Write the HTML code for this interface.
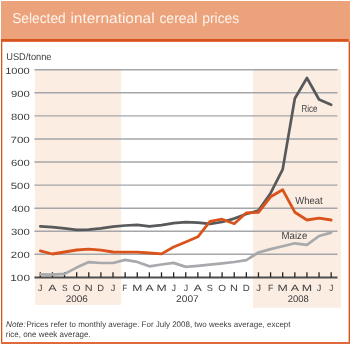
<!DOCTYPE html>
<html><head><meta charset="utf-8">
<style>
html,body{margin:0;padding:0;background:#fff;}
body{width:350px;height:344px;overflow:hidden;position:relative;font-family:"Liberation Sans",sans-serif;}
svg{position:absolute;left:0;top:0;will-change:transform;}
text{font-family:"Liberation Sans",sans-serif;text-rendering:geometricPrecision;}
.g{stroke:#a4a6a9;stroke-width:1.4;}
.tk{stroke:#222;stroke-width:1.3;}
</style></head><body>
<svg width="350" height="344" viewBox="0 0 350 344">
<rect x="1" y="1" width="349" height="40.3" fill="#eca37b"/>
<rect x="1" y="39" width="347.7" height="2.8" fill="#d9531c"/>
<rect x="1" y="41" width="1.3" height="303" fill="#d9531c"/>
<rect x="348.6" y="41.3" width="1.4" height="303" fill="#d9531c"/>
<rect x="1" y="342" width="349" height="2" fill="#e0693c"/>
<rect x="35.0" y="68.7" width="86.1" height="236.2" fill="#fcede3"/>
<rect x="253.0" y="68.7" width="87.9" height="239.1" fill="#fcede3"/>
<line x1="34.4" x2="337.5" y1="254.32" y2="254.32" class="g"/>
<line x1="34.4" x2="337.5" y1="231.25" y2="231.25" class="g"/>
<line x1="34.4" x2="337.5" y1="208.18" y2="208.18" class="g"/>
<line x1="34.4" x2="337.5" y1="185.11" y2="185.11" class="g"/>
<line x1="34.4" x2="337.5" y1="162.03" y2="162.03" class="g"/>
<line x1="34.4" x2="337.5" y1="138.96" y2="138.96" class="g"/>
<line x1="34.4" x2="337.5" y1="115.89" y2="115.89" class="g"/>
<line x1="34.4" x2="337.5" y1="92.81" y2="92.81" class="g"/>
<line x1="34.4" x2="337.5" y1="69.74" y2="69.74" class="g"/>

<line x1="34.4" x2="337.5" y1="277.4" y2="277.4" stroke="#4d4d4d" stroke-width="2"/>
<line x1="40.30" x2="40.30" y1="272.3" y2="277.3" class="tk"/>
<line x1="52.42" x2="52.42" y1="272.3" y2="277.3" class="tk"/>
<line x1="64.54" x2="64.54" y1="272.3" y2="277.3" class="tk"/>
<line x1="76.66" x2="76.66" y1="272.3" y2="277.3" class="tk"/>
<line x1="88.78" x2="88.78" y1="272.3" y2="277.3" class="tk"/>
<line x1="100.90" x2="100.90" y1="272.3" y2="277.3" class="tk"/>
<line x1="113.02" x2="113.02" y1="272.3" y2="277.3" class="tk"/>
<line x1="125.14" x2="125.14" y1="272.3" y2="277.3" class="tk"/>
<line x1="137.26" x2="137.26" y1="272.3" y2="277.3" class="tk"/>
<line x1="149.38" x2="149.38" y1="272.3" y2="277.3" class="tk"/>
<line x1="161.50" x2="161.50" y1="272.3" y2="277.3" class="tk"/>
<line x1="173.62" x2="173.62" y1="272.3" y2="277.3" class="tk"/>
<line x1="185.74" x2="185.74" y1="272.3" y2="277.3" class="tk"/>
<line x1="197.86" x2="197.86" y1="272.3" y2="277.3" class="tk"/>
<line x1="209.98" x2="209.98" y1="272.3" y2="277.3" class="tk"/>
<line x1="222.10" x2="222.10" y1="272.3" y2="277.3" class="tk"/>
<line x1="234.22" x2="234.22" y1="272.3" y2="277.3" class="tk"/>
<line x1="246.34" x2="246.34" y1="272.3" y2="277.3" class="tk"/>
<line x1="258.46" x2="258.46" y1="272.3" y2="277.3" class="tk"/>
<line x1="270.58" x2="270.58" y1="272.3" y2="277.3" class="tk"/>
<line x1="282.70" x2="282.70" y1="272.3" y2="277.3" class="tk"/>
<line x1="294.82" x2="294.82" y1="272.3" y2="277.3" class="tk"/>
<line x1="306.94" x2="306.94" y1="272.3" y2="277.3" class="tk"/>
<line x1="319.06" x2="319.06" y1="272.3" y2="277.3" class="tk"/>
<line x1="331.18" x2="331.18" y1="272.3" y2="277.3" class="tk"/>

<polyline points="40.30,274.30 52.42,274.60 64.54,273.90 76.66,267.60 88.78,262.10 100.90,263.00 113.02,263.00 125.14,259.90 137.26,261.90 149.38,266.30 161.50,264.50 173.62,262.90 185.74,266.90 197.86,265.80 209.98,264.60 222.10,263.40 234.22,262.00 246.34,260.20 258.46,252.50 270.58,249.10 282.70,246.20 294.82,243.30 306.94,244.80 319.06,236.00 331.18,232.60" fill="none" stroke="#a7a9ac" stroke-width="2.7" stroke-linejoin="round" stroke-linecap="round"/>
<polyline points="40.30,226.30 52.42,227.10 64.54,228.40 76.66,229.80 88.78,229.70 100.90,228.40 113.02,226.70 125.14,225.50 137.26,224.90 149.38,226.30 161.50,225.20 173.62,223.10 185.74,222.10 197.86,222.70 209.98,223.80 222.10,222.00 234.22,218.60 246.34,214.00 258.46,210.60 270.58,193.20 282.70,169.30 294.82,98.50 306.94,78.00 319.06,99.50 331.18,104.80" fill="none" stroke="#58595b" stroke-width="2.7" stroke-linejoin="round" stroke-linecap="round"/>
<polyline points="40.30,250.90 52.42,254.00 64.54,252.00 76.66,250.00 88.78,249.20 100.90,250.20 113.02,252.00 125.14,252.10 137.26,252.10 149.38,253.00 161.50,253.90 173.62,247.00 185.74,242.00 197.86,236.80 209.98,221.40 222.10,219.20 234.22,223.70 246.34,212.80 258.46,212.30 270.58,196.80 282.70,189.80 294.82,212.20 306.94,220.00 319.06,218.10 331.18,220.00" fill="none" stroke="#d9531c" stroke-width="2.8" stroke-linejoin="round" stroke-linecap="round"/>
<text x="12.14" y="22.80" font-size="14.35" fill="#fdf3ec" textLength="53.64" lengthAdjust="spacingAndGlyphs">Selected</text>
<text x="70.42" y="22.80" font-size="14.35" fill="#fdf3ec" textLength="84.16" lengthAdjust="spacingAndGlyphs">international</text>
<text x="159.39" y="22.80" font-size="14.35" fill="#fdf3ec" textLength="38.10" lengthAdjust="spacingAndGlyphs">cereal</text>
<text x="202.30" y="22.80" font-size="14.35" fill="#fdf3ec" textLength="36.87" lengthAdjust="spacingAndGlyphs">prices</text>
<text x="6.20" y="60.20" font-size="9.80" fill="#3d3d3d" textLength="45.31" lengthAdjust="spacingAndGlyphs">USD/tonne</text>
<text x="10.33" y="281.40" font-size="9.10" fill="#3d3d3d" textLength="19.63" lengthAdjust="spacingAndGlyphs">100</text>
<text x="10.82" y="258.32" font-size="9.10" fill="#3d3d3d" textLength="18.97" lengthAdjust="spacingAndGlyphs">200</text>
<text x="10.90" y="235.25" font-size="9.10" fill="#3d3d3d" textLength="18.92" lengthAdjust="spacingAndGlyphs">300</text>
<text x="11.42" y="212.18" font-size="9.10" fill="#3d3d3d" textLength="18.42" lengthAdjust="spacingAndGlyphs">400</text>
<text x="10.77" y="189.11" font-size="9.10" fill="#3d3d3d" textLength="18.97" lengthAdjust="spacingAndGlyphs">500</text>
<text x="10.92" y="166.03" font-size="9.10" fill="#3d3d3d" textLength="18.86" lengthAdjust="spacingAndGlyphs">600</text>
<text x="10.44" y="142.96" font-size="9.10" fill="#3d3d3d" textLength="19.38" lengthAdjust="spacingAndGlyphs">700</text>
<text x="10.99" y="119.89" font-size="9.10" fill="#3d3d3d" textLength="18.83" lengthAdjust="spacingAndGlyphs">800</text>
<text x="10.97" y="96.81" font-size="9.10" fill="#3d3d3d" textLength="18.85" lengthAdjust="spacingAndGlyphs">900</text>
<text x="5.16" y="73.74" font-size="9.10" fill="#3d3d3d" textLength="24.60" lengthAdjust="spacingAndGlyphs">1000</text>
<text x="38.09" y="291.10" font-size="8.95" fill="#3d3d3d" textLength="4.38" lengthAdjust="spacingAndGlyphs">J</text>
<text x="48.33" y="291.10" font-size="8.95" fill="#3d3d3d" textLength="8.37" lengthAdjust="spacingAndGlyphs">A</text>
<text x="61.95" y="291.10" font-size="8.95" fill="#3d3d3d" textLength="5.61" lengthAdjust="spacingAndGlyphs">S</text>
<text x="72.72" y="291.10" font-size="8.95" fill="#3d3d3d" textLength="7.71" lengthAdjust="spacingAndGlyphs">O</text>
<text x="84.83" y="291.10" font-size="8.95" fill="#3d3d3d" textLength="7.87" lengthAdjust="spacingAndGlyphs">N</text>
<text x="97.21" y="291.10" font-size="8.95" fill="#3d3d3d" textLength="6.82" lengthAdjust="spacingAndGlyphs">D</text>
<text x="110.89" y="291.10" font-size="8.95" fill="#3d3d3d" textLength="4.57" lengthAdjust="spacingAndGlyphs">J</text>
<text x="122.36" y="291.10" font-size="8.95" fill="#3d3d3d" textLength="4.92" lengthAdjust="spacingAndGlyphs">F</text>
<text x="132.38" y="291.10" font-size="8.95" fill="#3d3d3d" textLength="10.13" lengthAdjust="spacingAndGlyphs">M</text>
<text x="145.51" y="291.10" font-size="8.95" fill="#3d3d3d" textLength="8.06" lengthAdjust="spacingAndGlyphs">A</text>
<text x="156.62" y="291.10" font-size="8.95" fill="#3d3d3d" textLength="10.12" lengthAdjust="spacingAndGlyphs">M</text>
<text x="171.45" y="291.10" font-size="8.95" fill="#3d3d3d" textLength="4.53" lengthAdjust="spacingAndGlyphs">J</text>
<text x="183.74" y="291.10" font-size="8.95" fill="#3d3d3d" textLength="4.40" lengthAdjust="spacingAndGlyphs">J</text>
<text x="193.79" y="291.10" font-size="8.95" fill="#3d3d3d" textLength="8.05" lengthAdjust="spacingAndGlyphs">A</text>
<text x="206.73" y="291.10" font-size="8.95" fill="#3d3d3d" textLength="6.19" lengthAdjust="spacingAndGlyphs">S</text>
<text x="218.22" y="291.10" font-size="8.95" fill="#3d3d3d" textLength="7.76" lengthAdjust="spacingAndGlyphs">O</text>
<text x="230.08" y="291.10" font-size="8.95" fill="#3d3d3d" textLength="7.96" lengthAdjust="spacingAndGlyphs">N</text>
<text x="242.80" y="291.10" font-size="8.95" fill="#3d3d3d" textLength="7.06" lengthAdjust="spacingAndGlyphs">D</text>
<text x="256.17" y="291.10" font-size="8.95" fill="#3d3d3d" textLength="4.78" lengthAdjust="spacingAndGlyphs">J</text>
<text x="267.89" y="291.10" font-size="8.95" fill="#3d3d3d" textLength="5.30" lengthAdjust="spacingAndGlyphs">F</text>
<text x="277.57" y="291.10" font-size="8.95" fill="#3d3d3d" textLength="10.28" lengthAdjust="spacingAndGlyphs">M</text>
<text x="290.65" y="291.10" font-size="8.95" fill="#3d3d3d" textLength="8.33" lengthAdjust="spacingAndGlyphs">A</text>
<text x="301.72" y="291.10" font-size="8.95" fill="#3d3d3d" textLength="10.37" lengthAdjust="spacingAndGlyphs">M</text>
<text x="316.71" y="291.10" font-size="8.95" fill="#3d3d3d" textLength="4.55" lengthAdjust="spacingAndGlyphs">J</text>
<text x="329.32" y="291.10" font-size="8.95" fill="#3d3d3d" textLength="4.05" lengthAdjust="spacingAndGlyphs">J</text>
<text x="65.69" y="302.30" font-size="9.65" fill="#3d3d3d" textLength="22.22" lengthAdjust="spacingAndGlyphs">2006</text>
<text x="176.13" y="302.20" font-size="9.65" fill="#3d3d3d" textLength="22.65" lengthAdjust="spacingAndGlyphs">2007</text>
<text x="287.81" y="302.20" font-size="9.65" fill="#3d3d3d" textLength="21.10" lengthAdjust="spacingAndGlyphs">2008</text>
<text x="301.44" y="112.00" font-size="10.10" fill="#3d3d3d" textLength="15.86" lengthAdjust="spacingAndGlyphs">Rice</text>
<text x="295.24" y="203.50" font-size="10.30" fill="#3d3d3d" textLength="27.27" lengthAdjust="spacingAndGlyphs">Wheat</text>
<text x="281.57" y="239.10" font-size="10.10" fill="#3d3d3d" textLength="25.73" lengthAdjust="spacingAndGlyphs">Maize</text>
<text x="6.04" y="327.10" font-size="8.20" fill="#3d3d3d" textLength="19.68" lengthAdjust="spacingAndGlyphs"><tspan font-style="italic">Note:</tspan></text>
<text x="26.38" y="327.10" font-size="8.10" fill="#3d3d3d" textLength="112.98" lengthAdjust="spacingAndGlyphs">Prices refer to monthly average.</text>
<text x="141.59" y="327.10" font-size="8.10" fill="#3d3d3d" textLength="148.94" lengthAdjust="spacingAndGlyphs">For July 2008, two weeks average, except</text>
<text x="5.82" y="337.20" font-size="8.20" fill="#3d3d3d" textLength="84.91" lengthAdjust="spacingAndGlyphs">rice, one week average.</text>
</svg>
</body></html>
